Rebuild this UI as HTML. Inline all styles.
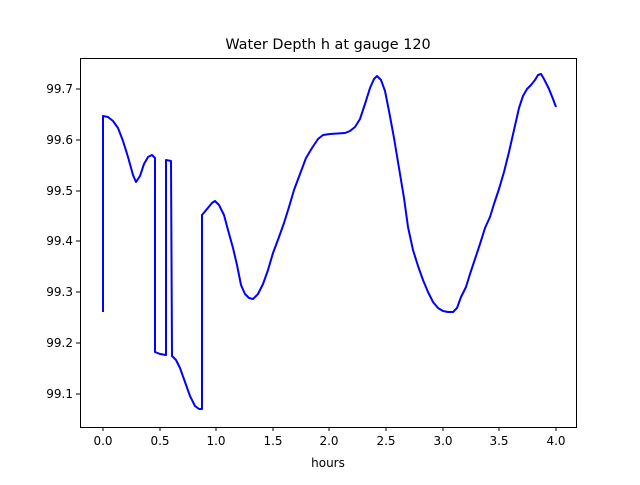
<!DOCTYPE html>
<html><head><meta charset="utf-8"><style>body{margin:0;background:#fff}</style></head><body>
<svg width="640" height="480" xmlns="http://www.w3.org/2000/svg" font-family="DejaVu Sans, Liberation Sans, sans-serif">
<rect width="640" height="480" fill="#fff"/>
<text x="328" y="49" font-size="14.4" text-anchor="middle">Water Depth h at gauge 120</text>
<polyline fill="none" stroke="#0000ff" stroke-width="2" stroke-linejoin="round" points="103,312 103,116 108,117 113,121 118,128 123,141 128,157 133,175 136,182 140,176 144,164 148,157 152,155 155,158 155,352 160,354 166,355 166,160 171,161 172,356 176,360 180,368 185,382 190,396 195,406 199,409 202,409 202,215 207,209 212,203 215,201 219,205 224,215 228,230 233,248 237,265 241,285 245,294 249,298 253,299 258,294 263,284 268,270 273,253 279,237 284,223 289,207 294,190 300,174 306,158 312,148 318,139 323,135 330,134 345,133 350,131 355,127 360,119 365,104 370,88 374,79 377,76 381,80 385,91 389,111 394,138 399,168 404,198 408,227 413,250 418,266 423,280 428,292 433,302 438,308 443,311 448,312 453,312 457,308 461,297 466,287 470,274 475,259 480,244 485,228 490,217 494,204 499,189 504,172 509,152 514,130 519,108 523,96 527,89 531,85 535,80 538,75 541,74 544,79 549,89 553,99 556,107"/>
<rect x="80.5" y="58.5" width="496" height="369" fill="none" stroke="#000" stroke-width="1"/>
<g stroke="#000" stroke-width="1">
<line x1="103" y1="427" x2="103" y2="431"/><line x1="160" y1="427" x2="160" y2="431"/><line x1="216" y1="427" x2="216" y2="431"/><line x1="273" y1="427" x2="273" y2="431"/><line x1="329" y1="427" x2="329" y2="431"/><line x1="386" y1="427" x2="386" y2="431"/><line x1="443" y1="427" x2="443" y2="431"/><line x1="499" y1="427" x2="499" y2="431"/><line x1="556" y1="427" x2="556" y2="431"/>
<line x1="76" y1="394" x2="80" y2="394"/><line x1="76" y1="343" x2="80" y2="343"/><line x1="76" y1="292" x2="80" y2="292"/><line x1="76" y1="241" x2="80" y2="241"/><line x1="76" y1="191" x2="80" y2="191"/><line x1="76" y1="140" x2="80" y2="140"/><line x1="76" y1="89" x2="80" y2="89"/>
</g>
<g font-size="12" text-anchor="middle">
<text x="103" y="445">0.0</text><text x="160" y="445">0.5</text><text x="216" y="445">1.0</text><text x="273" y="445">1.5</text><text x="329" y="445">2.0</text><text x="386" y="445">2.5</text><text x="443" y="445">3.0</text><text x="499" y="445">3.5</text><text x="556" y="445">4.0</text>
<text x="328" y="467">hours</text>
</g>
<g font-size="12" text-anchor="end">
<text x="73" y="398">99.1</text><text x="73" y="347">99.2</text><text x="73" y="296">99.3</text><text x="73" y="245">99.4</text><text x="73" y="195">99.5</text><text x="73" y="144">99.6</text><text x="73" y="93">99.7</text>
</g>
</svg>
</body></html>
